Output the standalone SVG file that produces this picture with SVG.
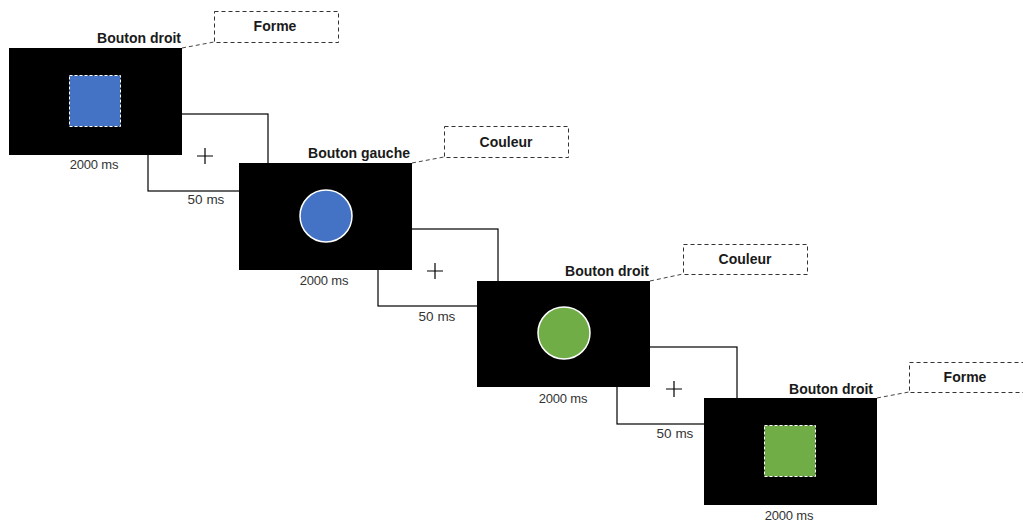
<svg xmlns="http://www.w3.org/2000/svg" width="1023" height="523" viewBox="0 0 1023 523">
<style>
.scr{fill:#000}
.blank{fill:#fff;stroke:#000;stroke-width:1.2}
.cross{stroke:#000;stroke-width:1.2}
.lead{fill:none;stroke:#444;stroke-width:1;stroke-dasharray:4,3}
.tag{fill:#fff;stroke:#333;stroke-width:1;stroke-dasharray:4,3}
.resp{font-family:"Liberation Sans",Arial,sans-serif;font-weight:bold;font-size:14px;fill:#1a1a1a;text-anchor:end}
.tagt{font-family:"Liberation Sans",Arial,sans-serif;font-weight:bold;font-size:14px;fill:#1a1a1a;text-anchor:middle}
.dur{font-family:"Liberation Sans",Arial,sans-serif;font-size:13px;fill:#333;text-anchor:middle;letter-spacing:-0.2px}
.isi{font-family:"Liberation Sans",Arial,sans-serif;font-size:13.5px;fill:#333;text-anchor:middle}
.sq{stroke:#fff;stroke-width:1;stroke-dasharray:3,2}
.ci{stroke:#fff;stroke-width:1.5}
</style>
<rect width="1023" height="523" fill="#fff"/>
<g id="connectors">
  <rect class="blank" x="148" y="114" width="120" height="77"/>
  <rect class="blank" x="378" y="229" width="120" height="77"/>
  <rect class="blank" x="617" y="347" width="120" height="77"/>
  <path class="cross" d="M197 156H213M205 148V164"/>
  <path class="cross" d="M427 271H443M435 263V279"/>
  <path class="cross" d="M666 389H682M674 381V397"/>
  <text class="isi" x="206" y="204">50 ms</text>
  <text class="isi" x="437" y="321">50 ms</text>
  <text class="isi" x="675" y="438">50 ms</text>
  <path class="lead" d="M182 48L214 42"/>
  <path class="lead" d="M412 163L444 157"/>
  <path class="lead" d="M650 281L683 274"/>
  <path class="lead" d="M877 398L909 392"/>
</g>
<g id="screen1">
  <rect class="scr" x="9" y="48" width="173" height="107"/>
  <rect class="sq" x="69.5" y="75.5" width="51" height="51" fill="#4472C4"/>
  <text class="resp" x="181" y="43">Bouton droit</text>
  <text class="dur" x="94" y="169">2000 ms</text>
</g>
<g id="tag1">
  <rect class="tag" x="214.5" y="11.5" width="124" height="31"/>
  <text class="tagt" x="275" y="31">Forme</text>
</g>
<g id="screen2">
  <rect class="scr" x="239" y="163" width="173" height="107"/>
  <circle class="ci" cx="326" cy="216" r="26" fill="#4472C4"/>
  <text class="resp" x="410" y="158">Bouton gauche</text>
  <text class="dur" x="324" y="285">2000 ms</text>
</g>
<g id="tag2">
  <rect class="tag" x="444.5" y="126.5" width="124" height="31"/>
  <text class="tagt" x="506" y="147">Couleur</text>
</g>
<g id="screen3">
  <rect class="scr" x="477" y="281" width="173" height="106"/>
  <circle class="ci" cx="564" cy="333" r="26" fill="#70AD47"/>
  <text class="resp" x="649" y="276">Bouton droit</text>
  <text class="dur" x="563" y="403">2000 ms</text>
</g>
<g id="tag3">
  <rect class="tag" x="683.5" y="244.5" width="124" height="30"/>
  <text class="tagt" x="745" y="264">Couleur</text>
</g>
<g id="screen4">
  <rect class="scr" x="704" y="398" width="173" height="107"/>
  <rect class="sq" x="764.5" y="425.5" width="51" height="51" fill="#70AD47"/>
  <text class="resp" x="873" y="394">Bouton droit</text>
  <text class="dur" x="789" y="520">2000 ms</text>
</g>
<g id="tag4">
  <rect class="tag" x="909.5" y="362.5" width="124" height="30"/>
  <text class="tagt" x="965" y="382">Forme</text>
</g>
</svg>
